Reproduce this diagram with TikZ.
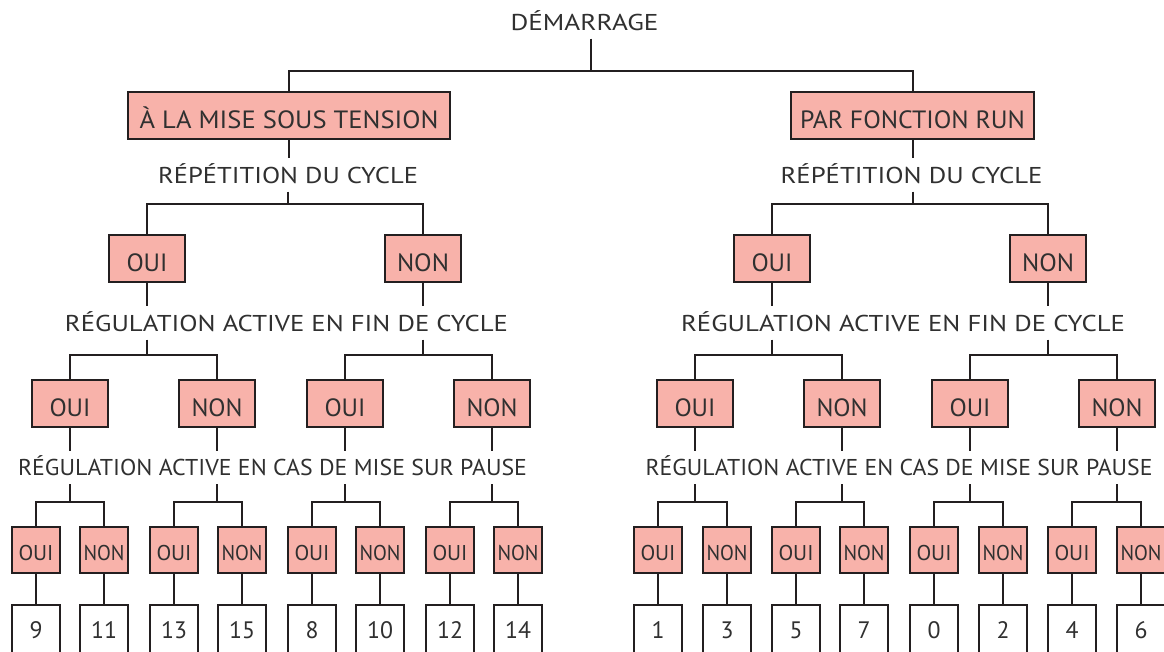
\documentclass[tikz,border=0pt]{standalone}
\usepackage{fontspec}
\setmainfont{PT Sans}
\usepackage{graphicx}
\definecolor{salm}{HTML}{F8B2AA}
\definecolor{ln}{HTML}{231F20}
\definecolor{tx}{HTML}{303030}
\newlength\fitlen
\newcommand\fitw[2]{\settowidth\fitlen{#2}\pgfmathsetmacro\fitratio{#1/\fitlen}\scalebox{\fitratio}[1]{#2}}
\tikzset{
  conn/.style={draw=ln, line width=2pt},
  lbl/.style={inner xsep=0pt, inner ysep=8.5pt, text height=16pt, text depth=0pt, text=tx, font=\fontsize{22.9}{23}\selectfont},
  tbox/.style={draw=ln, line width=2.4pt, fill=salm, inner sep=0pt, minimum height=47pt, text height=26.7pt, text depth=0pt, text=tx, font=\fontsize{25}{25}\selectfont},
  bbox/.style={tbox, minimum width=76pt, minimum height=47pt},
  sbox/.style={draw=ln, line width=2.4pt, fill=salm, inner sep=0pt, minimum width=48pt, minimum height=46pt, text height=20.6pt, text depth=0pt, text=tx, font=\fontsize{21.4}{22}\selectfont},
  nbox/.style={draw=ln, line width=2.4pt, fill=white, inner sep=0pt, minimum width=48pt, minimum height=50pt, text height=16.7pt, text depth=0pt, text=tx, font=\fontsize{23.8}{24}\selectfont},
}
\begin{document}
\begin{tikzpicture}[x=1pt,y=-1pt]
\useasboundingbox (0,0) rectangle (1164,651);
\clip (0,0) rectangle (1164,651);
\fill[white] (0,0) rectangle (1164,651);
% top
\node[lbl] (dem) at (584.5,22) {\fitw{148}{DÉMARRAGE}};
\node[tbox, minimum width=322pt] (tL) at (289,115.5) {\fitw{299}{À LA MISE SOUS TENSION}};
\node[tbox, minimum width=243pt] (tR) at (912.5,115.5) {\fitw{225}{PAR FONCTION RUN}};
\coordinate (j0) at (591,71);
\draw[conn] (dem.south -| j0) -- (j0);
\draw[conn] (tL.north) |- (j0) -| (tR.north);
% repetition
\node[lbl] (repL) at (288,175) {\fitw{260}{RÉPÉTITION DU CYCLE}};
\node[lbl] (repR) at (911.5,175) {\fitw{262}{RÉPÉTITION DU CYCLE}};
\draw[conn] (tL.south) -- (tL.south |- repL.north);
\draw[conn] (tR.south) -- (tR.south |- repR.north);
\coordinate (ja) at (288,204);
\coordinate (jb) at (913,204);
\draw[conn] (repL.south -| ja) -- (ja);
\draw[conn] (repR.south -| jb) -- (jb);
% row 1
\node[bbox] (aO) at (147,258.5) {\fitw{41}{OUI}};
\node[bbox] (aN) at (423,258.5) {\fitw{52}{NON}};
\node[bbox] (bO) at (772,258.5) {\fitw{41}{OUI}};
\node[bbox] (bN) at (1048,258.5) {\fitw{52}{NON}};
\draw[conn] (aO.north) |- (ja) -| (aN.north);
\draw[conn] (bO.north) |- (jb) -| (bN.north);
% fin de cycle
\node[lbl] (finL) at (286.5,323) {\fitw{443}{RÉGULATION ACTIVE EN FIN DE CYCLE}};
\node[lbl] (finR) at (903,323) {\fitw{444}{RÉGULATION ACTIVE EN FIN DE CYCLE}};
\coordinate (y2) at (0,355);
\foreach \p/\t in {aO/finL, aN/finL, bO/finR, bN/finR}{
  \draw[conn] (\p.south) -- (\p.south |- \t.north);
  \draw[conn] (\p.south |- \t.south) -- (\p.south |- y2);
}
% row 2
\node[bbox] (aOO) at (70,403.5) {\fitw{41}{OUI}};
\node[bbox] (aON) at (217,403.5) {\fitw{51}{NON}};
\node[bbox] (aNO) at (345,403.5) {\fitw{41}{OUI}};
\node[bbox] (aNN) at (492,403.5) {\fitw{51}{NON}};
\node[bbox] (bOO) at (695,403.5) {\fitw{41}{OUI}};
\node[bbox] (bON) at (842,403.5) {\fitw{51}{NON}};
\node[bbox] (bNO) at (970,403.5) {\fitw{41}{OUI}};
\node[bbox] (bNN) at (1117,403.5) {\fitw{51}{NON}};
\draw[conn] (aOO.north) |- (aO.south |- y2) -| (aON.north);
\draw[conn] (aNO.north) |- (aN.south |- y2) -| (aNN.north);
\draw[conn] (bOO.north) |- (bO.south |- y2) -| (bON.north);
\draw[conn] (bNO.north) |- (bN.south |- y2) -| (bNN.north);
% pause
\node[lbl] (casL) at (272.5,467.5) {\fitw{509}{RÉGULATION ACTIVE EN CAS DE MISE SUR PAUSE}};
\node[lbl] (casR) at (899,467.5) {\fitw{507}{RÉGULATION ACTIVE EN CAS DE MISE SUR PAUSE}};
\coordinate (y3) at (0,502);
\foreach \p/\xa/\xb/\na/\nb/\t in {aOO/36/104/9/11/casL, aON/174/242/13/15/casL, aNO/312/380/8/10/casL, aNN/450/518/12/14/casL, bOO/658/727/1/3/casR, bON/796/864/5/7/casR, bNO/934/1003/0/2/casR, bNN/1072/1141/4/6/casR}{
  \draw[conn] (\p.south) -- (\p.south |- \t.north);
  \draw[conn] (\p.south |- \t.south) -- (\p.south |- y3);
  \node[sbox] (\p-a) at (\xa,549.7) {\fitw{35}{OUI}};
  \node[sbox] (\p-b) at (\xb,549.7) {\fitw{41}{NON}};
  \draw[conn] (\p-a.north) |- (\p.south |- y3) -| (\p-b.north);
  \node[nbox] (\p-na) at (\xa,630) {\na};
  \node[nbox] (\p-nb) at (\xb,630) {\nb};
  \draw[conn] (\p-a.south) -- (\p-na.north);
  \draw[conn] (\p-b.south) -- (\p-nb.north);
}
\end{tikzpicture}
\end{document}
